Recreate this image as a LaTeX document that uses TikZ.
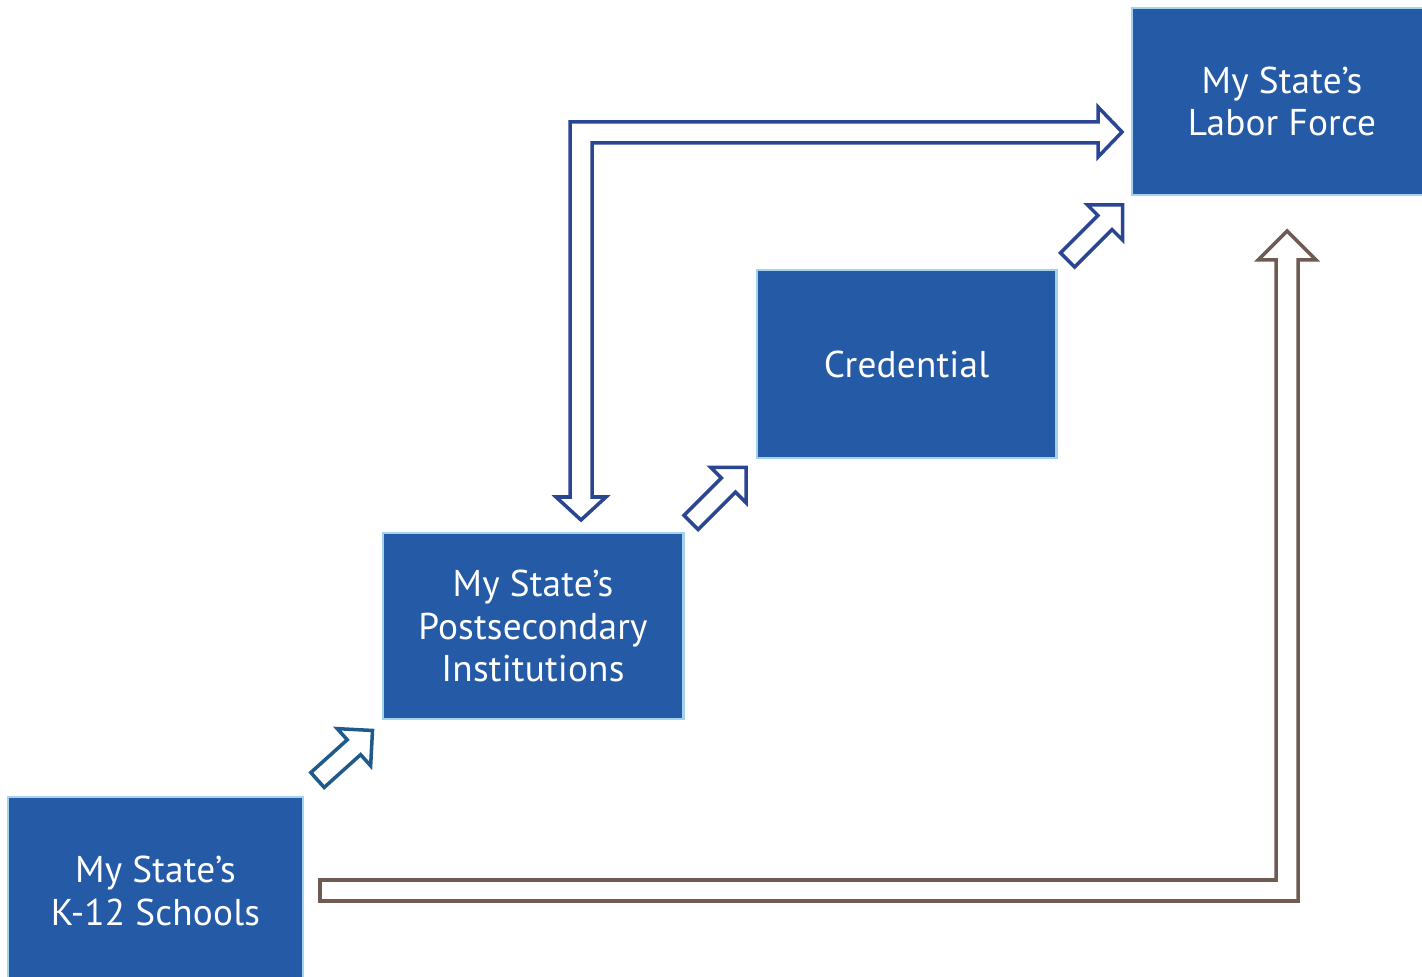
\documentclass[tikz,border=0pt]{standalone}
\usepackage{fontspec}
\setmainfont{PT Sans}[LetterSpace=0.5]
\begin{document}
\begin{tikzpicture}[x=0.01cm,y=-0.01cm,
  box/.style={fill=boxblue, draw=edgeblue, line width=0.8pt, text=white,
    align=center, font=\fontsize{10.6}{12.2}\selectfont, inner sep=0pt},
  smallarrow/.style={draw=#1, fill=white, line width=1pt, line join=miter},
  bigarrow/.style={draw=#1, fill=white, line width=1pt, line join=miter}
]
\definecolor{boxblue}{HTML}{255AA6}
\definecolor{edgeblue}{HTML}{A3D2EE}
\definecolor{arrblue}{HTML}{2A4692}
\definecolor{arrteal}{HTML}{1F5A8C}
\definecolor{arrbrown}{HTML}{6E5B53}
\useasboundingbox (0,0) rectangle (1422,977);

% boxes
\node[box, minimum width=2.95cm, minimum height=1.88cm] (k12) at (155.5,891) {My State’s\\K-12 Schools};
\node[box, minimum width=3.0cm, minimum height=1.86cm] (post) at (533,626) {My State’s\\Postsecondary\\Institutions};
\node[box, minimum width=2.99cm, minimum height=1.88cm] (cred) at (906.5,364) {Credential};
\node[box, minimum width=3.0cm, minimum height=1.87cm] (labor) at (1282,101.5) {My State’s\\Labor Force};

% small block arrows
\foreach \tx/\ty/\ang/\len/\col in {317.5/780/42/74/arrteal, 691/522.5/45/78/arrblue, 1067.5/260/45/78/arrblue}{
  \begin{scope}[shift={(\tx,\ty)}, rotate=\ang]
    \draw[smallarrow=\col] (0,-10) -- ({\len-25},-10) -- ({\len-25},-25) -- (\len,0) -- ({\len-25},25) -- ({\len-25},10) -- (0,10) -- cycle;
  \end{scope}
}

% double-headed L arrow (post <-> labor)
\draw[bigarrow=arrblue] (581,520) -- (606,497) -- (592,497) -- (592,143) -- (1098,143) -- (1098,157)
  -- (1122,132) -- (1098,107) -- (1098,122) -- (570,122) -- (570,497) -- (556,497) -- cycle;

% brown arrow (k12 -> labor)
\draw[bigarrow=arrbrown] (320,880) -- (1276,880) -- (1276,260) -- (1258,260) -- (1287,231)
  -- (1316,260) -- (1298,260) -- (1298,901) -- (320,901) -- cycle;
\end{tikzpicture}
\end{document}
